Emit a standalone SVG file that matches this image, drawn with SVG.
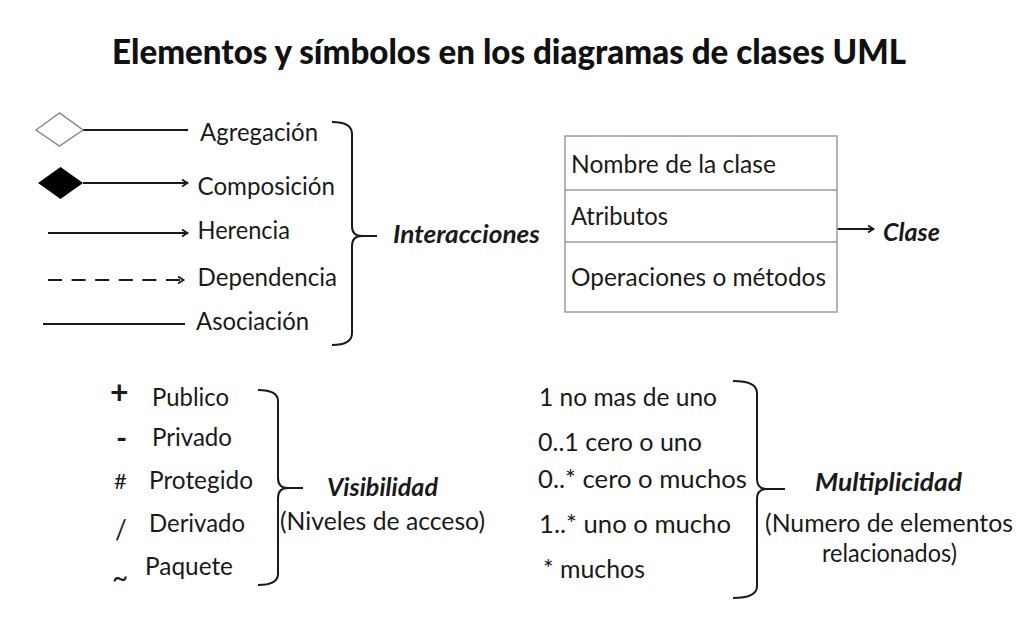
<svg xmlns="http://www.w3.org/2000/svg" width="1032" height="632" viewBox="0 0 1032 632">
<defs>
<style>
text{font-family:Lato,"Open Sans","Liberation Sans",sans-serif;fill:#1a1a1a;font-size:25px}
.t{font-family:Lato,"Open Sans","Liberation Sans",sans-serif;font-weight:900;font-size:35px;fill:#111}
.bi{font-weight:bold;font-style:italic}
.ln{stroke:#1a1a1a;stroke-width:2;fill:none}
.br{stroke:#1a1a1a;stroke-width:2;fill:none}
.box{fill:#fff;stroke:#9a9a9a;stroke-width:1.5}
.sym{font-size:26px;font-weight:bold}
</style>
<marker id="arr" markerWidth="10" markerHeight="10" refX="6" refY="4" orient="auto" markerUnits="userSpaceOnUse">
<path d="M1,0.5 L6.5,4 L1,7.5" fill="none" stroke="#1a1a1a" stroke-width="1.8"/>
</marker>
</defs>
<rect width="1032" height="632" fill="#fff"/>
<text id="title" class="t" x="509" y="64" text-anchor="middle" textLength="794" lengthAdjust="spacingAndGlyphs">Elementos y símbolos en los diagramas de clases UML</text>

<g id="connectors">
<line class="ln" x1="83" y1="130" x2="188" y2="130"/>
<line class="ln" x1="83" y1="183" x2="187" y2="183" marker-end="url(#arr)"/>
<line class="ln" x1="48" y1="233" x2="187" y2="233" marker-end="url(#arr)"/>
<line class="ln" x1="48" y1="280" x2="183" y2="280" stroke-dasharray="14 9.6" marker-end="url(#arr)"/>
<line class="ln" x1="43" y1="324" x2="185" y2="324"/>
<line class="ln" x1="837" y1="229" x2="873" y2="229" marker-end="url(#arr)"/>
</g>

<g id="agregacion">
<polygon points="36,130 59.5,113 83,130 59.5,146" fill="#fff" stroke="#8a8a8a" stroke-width="1.5"/>
<text x="200" y="141" textLength="118" lengthAdjust="spacingAndGlyphs">Agregación</text>
</g>
<g id="composicion">
<polygon points="38,183 60.5,167 83,183 60.5,199" fill="#000"/>
<text x="197.5" y="194.5" textLength="137.5" lengthAdjust="spacingAndGlyphs">Composición</text>
</g>
<g id="herencia">
<text x="197.5" y="238.5" textLength="92.5" lengthAdjust="spacingAndGlyphs">Herencia</text>
</g>
<g id="dependencia">
<text x="197.5" y="285.5" textLength="139.5" lengthAdjust="spacingAndGlyphs">Dependencia</text>
</g>
<g id="asociacion">
<text x="196" y="330" textLength="113" lengthAdjust="spacingAndGlyphs">Asociación</text>
</g>
<g id="interacciones">
<path class="br" d="M332,122 Q352,122 352,134 L352,226 Q352,236 362,236 L377,236 M362,236 Q352,236 352,246 L352,333 Q352,345 332,345"/>
<text class="bi" x="393" y="243" textLength="147" lengthAdjust="spacingAndGlyphs">Interacciones</text>
</g>

<g id="clase">
<rect class="box" x="565" y="136" width="272" height="176"/>
<line class="box" x1="565" y1="190" x2="837" y2="190"/>
<line class="box" x1="565" y1="242" x2="837" y2="242"/>
<text x="571" y="173" textLength="205" lengthAdjust="spacingAndGlyphs">Nombre de la clase</text>
<text x="571" y="225" textLength="97" lengthAdjust="spacingAndGlyphs">Atributos</text>
<text x="571" y="286" textLength="255" lengthAdjust="spacingAndGlyphs">Operaciones o métodos</text>
<text class="bi" x="883" y="241" textLength="57" lengthAdjust="spacingAndGlyphs">Clase</text>
</g>

<g id="visibilidad">
<text class="sym" x="110" y="404" style="font-size:32px">+</text>
<text class="sym" x="116" y="449" style="font-size:30px">-</text>
<text class="sym" x="114" y="489" style="font-size:22px;font-weight:normal">#</text>
<text class="sym" x="115" y="539" style="font-weight:normal">/</text>
<text class="sym" x="112" y="588" style="font-size:28px;font-weight:normal">~</text>
<text x="152" y="406" textLength="77" lengthAdjust="spacingAndGlyphs">Publico</text>
<text x="152" y="446" textLength="80" lengthAdjust="spacingAndGlyphs">Privado</text>
<text x="149" y="489" textLength="104" lengthAdjust="spacingAndGlyphs">Protegido</text>
<text x="149" y="532" textLength="96" lengthAdjust="spacingAndGlyphs">Derivado</text>
<text x="145" y="575" textLength="88" lengthAdjust="spacingAndGlyphs">Paquete</text>
<path class="br" d="M258,390 Q278,390 278,401 L278,478 Q278,488 288,488 L303,488 M288,488 Q278,488 278,498 L278,574 Q278,585 258,585"/>
<text class="bi" x="327" y="496" textLength="111" lengthAdjust="spacingAndGlyphs">Visibilidad</text>
<text x="280" y="530" textLength="205" lengthAdjust="spacingAndGlyphs">(Niveles de acceso)</text>
</g>

<g id="multiplicidad">
<text x="539" y="406" textLength="178" lengthAdjust="spacingAndGlyphs">1 no mas de uno</text>
<text x="538" y="451" textLength="164" lengthAdjust="spacingAndGlyphs">0..1 cero o uno</text>
<text x="538" y="488" textLength="209" lengthAdjust="spacingAndGlyphs">0..* cero o muchos</text>
<text x="539" y="533" textLength="192" lengthAdjust="spacingAndGlyphs">1..* uno o mucho</text>
<text x="543" y="578" textLength="102" lengthAdjust="spacingAndGlyphs">* muchos</text>
<path class="br" d="M733,381 Q757,381 757,393 L757,479 Q757,489 767,489 L785,489 M767,489 Q757,489 757,499 L757,586 Q757,598 733,598"/>
<text class="bi" x="815" y="491" textLength="147" lengthAdjust="spacingAndGlyphs">Multiplicidad</text>
<text x="765" y="532" textLength="248" lengthAdjust="spacingAndGlyphs">(Numero de elementos</text>
<text x="822" y="562" textLength="135" lengthAdjust="spacingAndGlyphs">relacionados)</text>
</g>
</svg>
